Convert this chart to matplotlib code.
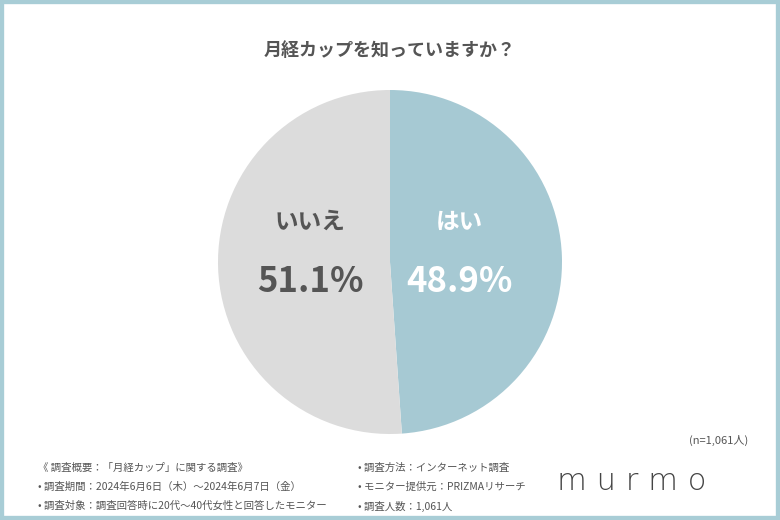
import matplotlib
matplotlib.use("Agg")
import matplotlib.pyplot as plt
from matplotlib.patches import Rectangle

labels = ["はい", "いいえ"]
values = [48.9, 51.1]
colors = ["#a6c9d3", "#dcdcdc"]
label_colors = ["white", "#555555"]
title = "月経カップを知っていますか？"
n_note = "(n=1,061人)"
notes_left = ["《 調査概要：「月経カップ」に関する調査》",
              "• 調査期間：2024年6月6日（木）～2024年6月7日（金）",
              "• 調査対象：調査回答時に20代～40代女性と回答したモニター"]
notes_right = ["• 調査方法：インターネット調査",
               "• モニター提供元：PRIZMAリサーチ",
               "• 調査人数：1,061人"]

plt.rcParams["font.family"] = "Noto Sans CJK JP"
W, H = 780, 520
fig = plt.figure(figsize=(7.8, 5.2), dpi=100)
fig.patches.append(Rectangle((0, 0), 1, 1, transform=fig.transFigure, fill=False,
                             edgecolor="#a8cdd6", linewidth=6))

cx, cy, r = 390, 262, 172
ax = fig.add_axes([(cx - r) / W, (H - cy - r) / H, 2 * r / W, 2 * r / H])
ax.pie(values, colors=colors, startangle=90, counterclock=False,
       wedgeprops=dict(linewidth=0))
ax.set_aspect("equal")
ax.set_xlim(-1, 1); ax.set_ylim(-1, 1)

pos = [(459, 222, 281), (310, 222, 281)]
for (x, y1, y2), lab, v, c in zip(pos, labels, values, label_colors):
    fig.text(x / W, 1 - y1 / H, lab, ha="center", va="center", fontsize=17,
             fontweight="bold", color=c)
    t = fig.text(x / W, 1 - y2 / H, f"{v}%", ha="center", va="center", fontsize=25,
                 fontweight="bold", color=c, fontstretch="condensed")

fig.text(390 / W, 1 - 50 / H, title, ha="center", va="center", fontsize=13,
         fontweight="bold", color="#555555")
fig.text(748 / W, 1 - 440 / H, n_note, ha="right", va="center", fontsize=8,
         color="#555555")
for i, t in enumerate(notes_left):
    fig.text(38 / W, 1 - (468 + i * 19) / H, t, ha="left", va="center",
             fontsize=7.5, color="#555555")
for i, t in enumerate(notes_right):
    fig.text(358 / W, 1 - (468 + i * 19) / H, t, ha="left", va="center",
             fontsize=7.5, color="#555555")
fig.text(632 / W, 1 - 482 / H, "m u r m o", ha="center", va="center", fontsize=22,
         color="#444444", fontfamily="DejaVu Sans", fontweight="light")

fig.savefig("out.png", dpi=100, facecolor="white")
